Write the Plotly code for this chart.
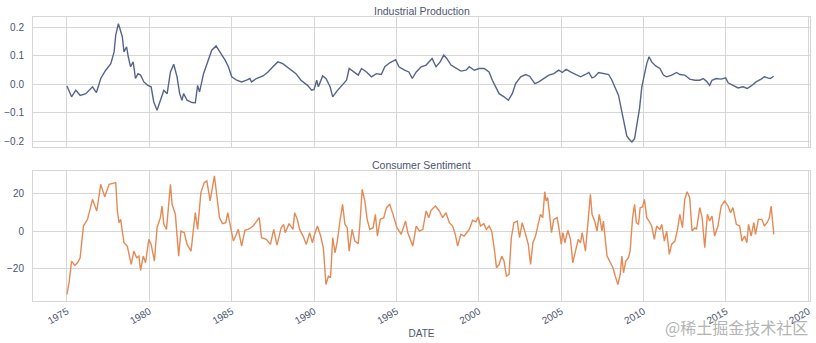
import pandas as pd
import plotly.graph_objects as go
from plotly.subplots import make_subplots

# Industrial Production (decimal year, value)
ip_years = [1975.0, 1975.28, 1975.54, 1975.8, 1976.15, 1976.55, 1976.79, 1977.05, 1977.35, 1977.66,
            1977.86, 1977.96, 1978.12, 1978.26, 1978.36, 1978.46, 1978.62, 1978.72, 1978.86, 1979.02,
            1979.16, 1979.31, 1979.47, 1979.67, 1979.91, 1980.11, 1980.27, 1980.47, 1980.67, 1980.88,
            1981.08, 1981.28, 1981.48, 1981.68, 1981.84, 1981.98, 1982.08, 1982.29, 1982.59, 1982.79,
            1982.93, 1983.05, 1983.29, 1983.59, 1983.79, 1984.05, 1984.3, 1984.6, 1984.8, 1985.0,
            1985.3, 1985.6, 1985.9, 1986.1, 1986.2, 1986.5, 1986.9, 1987.2, 1987.5, 1987.8,
            1988.1, 1988.5, 1988.9, 1989.2, 1989.6, 1989.85, 1990.0, 1990.16, 1990.26, 1990.52,
            1990.72, 1990.97, 1991.13, 1991.37, 1991.67, 1991.97, 1992.13, 1992.37, 1992.68, 1992.88,
            1993.18, 1993.48, 1993.78, 1994.08, 1994.29, 1994.59, 1994.95, 1995.15, 1995.49, 1995.75,
            1995.96, 1996.2, 1996.5, 1996.8, 1997.16, 1997.4, 1997.65, 1997.87, 1998.05, 1998.31,
            1998.61, 1998.91, 1999.22, 1999.42, 1999.72, 2000.02, 2000.32, 2000.62, 2000.82, 2001.03,
            2001.23, 2001.53, 2001.79, 2002.03, 2002.23, 2002.54, 2002.84, 2003.08, 2003.4, 2003.64,
            2003.94, 2004.25, 2004.55, 2004.85, 2005.06, 2005.3, 2005.56, 2005.87, 2006.17, 2006.47,
            2006.67, 2006.87, 2007.03, 2007.27, 2007.58, 2007.88, 2008.08, 2008.28, 2008.48, 2008.68,
            2008.84, 2008.98, 2009.14, 2009.29, 2009.45, 2009.59, 2009.75, 2009.89, 2010.05, 2010.19,
            2010.33, 2010.49, 2010.73, 2010.99, 2011.2, 2011.4, 2011.7, 2012.0, 2012.2, 2012.5,
            2012.8, 2013.11, 2013.41, 2013.61, 2013.81, 2014.01, 2014.15, 2014.41, 2014.71, 2014.98,
            2015.13, 2015.43, 2015.73, 2016.03, 2016.29, 2016.53, 2016.83, 2017.13, 2017.33, 2017.53,
            2017.69, 2017.89]
ip_values = [-0.006, -0.044, -0.021, -0.039, -0.033, -0.009, -0.029, 0.020, 0.049, 0.072,
             0.113, 0.172, 0.212, 0.189, 0.166, 0.113, 0.131, 0.096, 0.061, 0.078,
             0.020, 0.037, 0.032, 0.008, -0.004, -0.009, -0.062, -0.091, -0.056, -0.021,
             -0.033, 0.043, 0.070, 0.026, -0.033, -0.056, -0.033, -0.056, -0.064, -0.065,
             -0.004, -0.027, 0.037, 0.090, 0.119, 0.134, 0.113, 0.084, 0.061, 0.026,
             0.014, 0.008, 0.014, 0.020, 0.008, 0.020, 0.029, 0.043, 0.061, 0.078,
             0.072, 0.055, 0.037, 0.014, -0.004, -0.021, -0.018, 0.014, -0.009, 0.029,
             0.020, -0.009, -0.044, -0.025, -0.004, 0.014, 0.055, 0.046, 0.032, 0.055,
             0.043, 0.026, 0.037, 0.034, 0.061, 0.075, 0.086, 0.061, 0.049, 0.043,
             0.020, 0.043, 0.061, 0.067, 0.090, 0.061, 0.078, 0.102, 0.090, 0.067,
             0.055, 0.046, 0.049, 0.061, 0.049, 0.055, 0.055, 0.043, 0.014, -0.009,
             -0.033, -0.044, -0.056, -0.033, 0.002, 0.026, 0.034, 0.028, 0.002, 0.008,
             0.020, 0.032, 0.037, 0.049, 0.041, 0.052, 0.043, 0.034, 0.026, 0.034,
             0.041, 0.022, 0.026, 0.041, 0.037, 0.034, 0.014, -0.015, -0.039, -0.097,
             -0.144, -0.181, -0.193, -0.202, -0.190, -0.144, -0.085, -0.009, 0.037, 0.072,
             0.096, 0.078, 0.064, 0.055, 0.032, 0.026, 0.032, 0.041, 0.034, 0.032,
             0.018, 0.014, 0.014, 0.020, 0.011, -0.004, 0.014, 0.020, 0.018, 0.022,
             0.005, -0.004, -0.013, -0.009, -0.015, -0.006, 0.008, 0.018, 0.026, 0.022,
             0.020, 0.028]

# Consumer Sentiment (decimal year, value)
cs_years = [1975.0, 1975.14, 1975.28, 1975.48, 1975.64, 1975.8, 1976.0, 1976.25, 1976.55, 1976.81,
            1977.05, 1977.29, 1977.56, 1977.96, 1978.06, 1978.16, 1978.26, 1978.46, 1978.66, 1978.9,
            1979.06, 1979.23, 1979.37, 1979.47, 1979.63, 1979.77, 1979.97, 1980.11, 1980.31, 1980.47,
            1980.67, 1980.77, 1980.88, 1981.04, 1981.28, 1981.38, 1981.58, 1981.78, 1981.92, 1982.12,
            1982.29, 1982.53, 1982.79, 1982.93, 1983.13, 1983.33, 1983.49, 1983.69, 1983.83, 1983.95,
            1984.1, 1984.26, 1984.44, 1984.64, 1984.76, 1984.94, 1985.1, 1985.24, 1985.4, 1985.6,
            1985.8, 1986.0, 1986.3, 1986.67, 1986.81, 1987.1, 1987.35, 1987.55, 1987.75, 1988.0,
            1988.15, 1988.25, 1988.48, 1988.72, 1988.82, 1988.98, 1989.12, 1989.33, 1989.53, 1989.73,
            1989.9, 1990.0, 1990.2, 1990.4, 1990.56, 1990.72, 1990.87, 1991.0, 1991.13, 1991.27,
            1991.41, 1991.57, 1991.73, 1991.87, 1992.01, 1992.13, 1992.31, 1992.47, 1992.68, 1992.78,
            1992.92, 1993.08, 1993.22, 1993.38, 1993.58, 1993.72, 1993.84, 1994.02, 1994.23, 1994.39,
            1994.59, 1994.79, 1995.03, 1995.29, 1995.55, 1995.69, 1995.99, 1996.2, 1996.4, 1996.6,
            1996.8, 1996.96, 1997.1, 1997.36, 1997.6, 1997.8, 1998.0, 1998.21, 1998.41, 1998.57,
            1998.71, 1998.91, 1999.11, 1999.26, 1999.42, 1999.62, 1999.82, 1999.96, 2000.1, 2000.3,
            2000.46, 2000.62, 2000.78, 2000.93, 2001.07, 2001.23, 2001.39, 2001.53, 2001.67, 2001.83,
            2001.97, 2002.13, 2002.33, 2002.47, 2002.63, 2002.84, 2003.0, 2003.14, 2003.28, 2003.44,
            2003.6, 2003.74, 2003.88, 2004.0, 2004.08, 2004.18, 2004.29, 2004.41, 2004.55, 2004.75,
            2004.89, 2005.0, 2005.1, 2005.22, 2005.4, 2005.56, 2005.7, 2005.87, 2006.03, 2006.17,
            2006.27, 2006.47, 2006.63, 2006.77, 2006.87, 2007.03, 2007.17, 2007.31, 2007.47, 2007.56,
            2007.78, 2007.97, 2008.14, 2008.28, 2008.44, 2008.58, 2008.68, 2008.78, 2008.92, 2009.08,
            2009.18, 2009.33, 2009.45, 2009.56, 2009.69, 2009.79, 2009.93, 2010.05, 2010.19, 2010.33,
            2010.49, 2010.65, 2010.79, 2010.99, 2011.1, 2011.26, 2011.4, 2011.56, 2011.7, 2011.9,
            2012.06, 2012.2, 2012.36, 2012.5, 2012.64, 2012.8, 2012.94, 2013.11, 2013.21, 2013.41,
            2013.55, 2013.71, 2013.87, 2014.01, 2014.15, 2014.31, 2014.51, 2014.71, 2014.92, 2015.12,
            2015.28, 2015.42, 2015.63, 2015.83, 2015.97, 2016.13, 2016.27, 2016.37, 2016.53, 2016.69,
            2016.79, 2016.97, 2017.17, 2017.33, 2017.49, 2017.63, 2017.74, 2017.9]
cs_values = [-34.2, -27.0, -16.2, -18.5, -17.1, -14.4, 2.7, 6.3, 17.1, 10.8,
             25.2, 18.4, 25.2, 26.1, 10.8, 4.5, 6.3, -6.3, -8.1, -18.0,
             -10.8, -14.4, -13.5, -21.2, -13.5, -17.1, -4.5, -7.2, -16.2, 1.8,
             7.2, 13.5, 3.6, 0.9, 25.2, 14.4, 9.0, -13.5, 0.0, -0.9,
             -7.2, -10.8, 9.9, 0.9, 20.7, 26.1, 27.0, 16.2, 23.4, 29.7,
             18.9, 7.2, 4.0, 4.5, 9.9, 2.7, -5.4, -2.7, 0.9, -8.1,
             0.4, 0.9, 2.7, 7.2, -3.6, -4.5, -7.2, 0.9, -7.6, 1.8,
             3.6, -0.9, 4.0, 0.9, 9.9, 6.3, 0.9, -2.7, -7.2, -0.9,
             -6.3, -2.7, 2.7, -2.7, -9.0, -28.8, -24.3, -25.2, -3.6, -11.7,
             -5.4, 5.4, 14.4, 3.6, 1.8, -10.8, 0.9, -5.4, -6.8, 3.6,
             22.5, 16.2, 6.3, 0.9, 1.8, 9.0, -2.7, 6.3, 7.2, 12.6,
             14.4, 9.0, 1.8, -1.8, 5.4, -0.9, -8.1, 2.7, 0.0, 0.9,
             10.8, 7.2, 11.2, 13.5, 10.8, 7.2, 9.9, 4.5, 2.7, -1.8,
             -8.1, -1.8, -2.7, -0.9, 0.9, 5.8, 5.0, 7.6, 2.7, 4.0,
             0.9, 2.7, 0.0, -9.0, -19.8, -18.0, -13.5, -16.2, -24.3, -23.4,
             -3.6, 4.5, 5.4, -3.6, 4.5, -1.8, -7.2, -18.0, -6.3, -2.7,
             2.7, 9.0, 7.2, 21.2, 16.2, 18.0, 9.0, -0.9, 6.3, 7.2,
             0.0, -7.2, -0.9, -6.3, 0.4, -4.5, -17.1, -10.8, -4.5, -6.3,
             -0.9, -10.8, 5.4, 19.8, 9.0, 5.4, 0.0, 9.0, 0.0, 5.4,
             -13.5, -17.1, -19.8, -24.3, -28.8, -23.4, -13.5, -22.5, -16.2, -14.4,
             -10.8, 7.2, 14.4, 4.5, 3.6, 12.6, 13.0, 17.1, 7.2, 5.4,
             2.7, -4.5, 2.7, 0.9, 3.6, -5.4, 0.0, -12.6, -7.2, -5.4,
             0.9, 9.0, 1.8, 17.1, 21.2, 18.0, 0.0, 1.8, 0.9, 12.6,
             7.2, -9.0, 9.0, 5.4, 8.1, -2.7, 2.7, 13.5, 16.2, 13.5,
             9.9, 12.6, 3.6, 2.7, -5.4, -2.7, -6.3, 3.6, -2.7, 4.5,
             -1.8, 6.3, 6.3, 2.7, 4.5, 7.2, 13.5, -1.8]

x_range = [1972.94, 2020.1]
x_ticks = [1975, 1980, 1985, 1990, 1995, 2000, 2005, 2010, 2015, 2020]


def to_date(y):
    yi = int(y)
    return pd.Timestamp(yi, 1, 1) + pd.Timedelta(days=(y - yi) * 365.25)


ip_dates = [to_date(y) for y in ip_years]
cs_dates = [to_date(y) for y in cs_years]

TXT = "#4b5570"
GRID = "#d6d6d6"

fig = make_subplots(rows=2, cols=1, shared_xaxes=True, vertical_spacing=0.0813,
                    subplot_titles=("Industrial Production", "Consumer Sentiment"))

fig.add_trace(go.Scatter(x=ip_dates, y=ip_values, mode="lines",
                         line=dict(color="#56648a", width=1.4), showlegend=False), row=1, col=1)
fig.add_trace(go.Scatter(x=cs_dates, y=cs_values, mode="lines",
                         line=dict(color="#e38a55", width=1.4), showlegend=False), row=2, col=1)

tickvals = [pd.Timestamp(y, 1, 1) for y in x_ticks]
xr = [to_date(x_range[0]), to_date(x_range[1])]
common_x = dict(range=xr, tickvals=tickvals, showgrid=True, gridcolor=GRID, gridwidth=1,
                showline=True, linecolor=GRID, linewidth=1, mirror=True, zeroline=False,
                tickfont=dict(family="Arial, Liberation Sans, sans-serif", size=10, color=TXT))
fig.update_xaxes(**common_x)
fig.update_xaxes(showticklabels=False, row=1, col=1)
fig.update_xaxes(ticktext=[str(y) for y in x_ticks], tickangle=-30,
                 title=dict(text="DATE", font=dict(size=10, color=TXT), standoff=4), row=2, col=1)

common_y = dict(showgrid=True, gridcolor=GRID, gridwidth=1, showline=True, linecolor=GRID,
                linewidth=1, mirror=True, zeroline=False, ticklabelstandoff=6,
                tickfont=dict(family="Arial, Liberation Sans, sans-serif", size=10, color=TXT))
fig.update_yaxes(**common_y)
fig.update_yaxes(range=[-0.221, 0.235], tickvals=[-0.2, -0.1, 0.0, 0.1, 0.2], tickformat=".1f",
                 row=1, col=1)
fig.update_yaxes(range=[-37.7, 32.6], tickvals=[-20, 0, 20], row=2, col=1)

for ann in fig.layout.annotations:
    ann.font = dict(family="Arial, Liberation Sans, sans-serif", size=10.5, color=TXT)
    ann.yshift = -2

fig.add_annotation(text="@稀土掘金技术社区", xref="paper", yref="paper", x=1.0, y=-0.0915,
                   xanchor="right", yanchor="middle", showarrow=False,
                   font=dict(family="Noto Sans CJK SC", size=16, color="#b4b4b4"))

fig.update_layout(width=816, height=343, margin=dict(l=32, r=4, t=17, b=42),
                  paper_bgcolor="white", plot_bgcolor="white",
                  font=dict(family="Arial, Liberation Sans, sans-serif", color=TXT))

fig.write_html("out.html")
